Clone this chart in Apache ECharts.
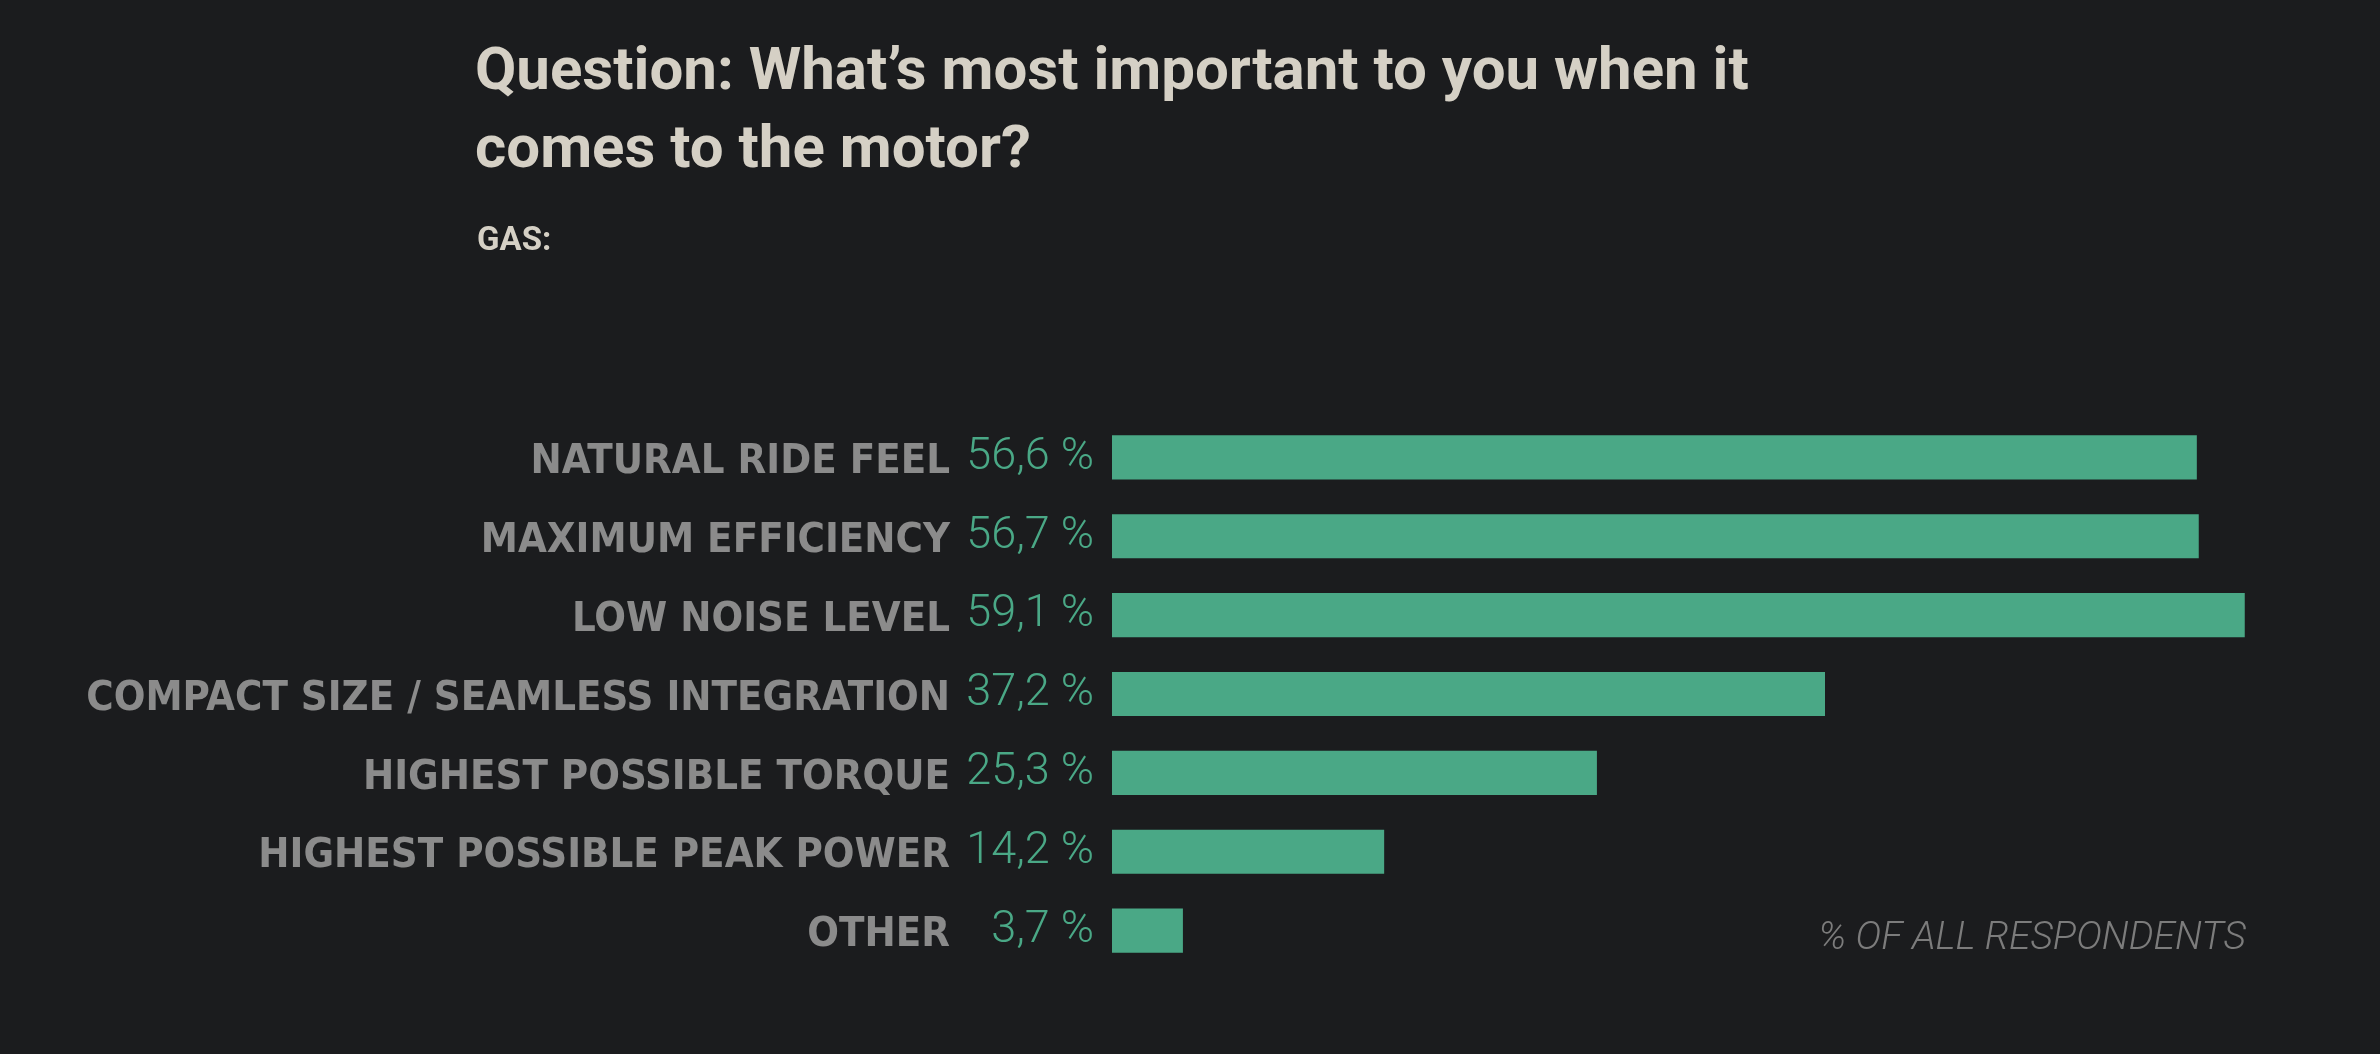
<!DOCTYPE html>
<html>
<head>
<meta charset="utf-8">
<script src="https://cdn.jsdelivr.net/npm/echarts@6/dist/echarts.min.js"></script>
<style>
  html, body { margin: 0; padding: 0; background: #1b1c1e; }
  #chart { width: 2380px; height: 1054px; }
</style>
</head>
<body>
<div id="chart"></div>
<script>
const categories = [
  "NATURAL RIDE FEEL",
  "MAXIMUM EFFICIENCY",
  "LOW NOISE LEVEL",
  "COMPACT SIZE / SEAMLESS INTEGRATION",
  "HIGHEST POSSIBLE TORQUE",
  "HIGHEST POSSIBLE PEAK POWER",
  "OTHER"
];
const shares = [56.6, 56.7, 59.1, 37.2, 25.3, 14.2, 3.7];

const titleText = "Question: What\u2019s most important to you when it\ncomes to the motor?";
const subText = "GAS:";
const noteText = "% OF ALL RESPONDENTS";

const chart = echarts.init(document.getElementById("chart"));

const option = {
  backgroundColor: "#1b1c1e",
  animation: false,
  title: [
    {
      text: titleText,
      left: 470,
      top: 30,
      textStyle: {
        color: "#d5d0c5",
        fontFamily: "Roboto",
        fontWeight: "bold",
        fontSize: 60,
        lineHeight: 78
      }
    },
    {
      text: subText,
      left: 472,
      top: 220,
      textStyle: {
        color: "#d5d0c5",
        fontFamily: "Roboto",
        fontWeight: "bold",
        fontSize: 33
      }
    },
    {
      text: noteText,
      right: 129,
      top: 915,
      textStyle: {
        color: "#7c7c7c",
        fontFamily: "Roboto",
        fontStyle: "italic",
        fontWeight: 300,
        fontSize: 39
      }
    }
  ],
  grid: {
    left: 1112,
    right: 118,
    top: 418,
    height: 552,
    containLabel: false
  },
  xAxis: {
    type: "value",
    min: 0,
    max: 60,
    show: false
  },
  yAxis: {
    type: "category",
    inverse: true,
    data: categories,
    axisLine: { show: false },
    axisTick: { show: false },
    axisLabel: {
      margin: 162,
      formatter: v => "{c|" + v + "}",
      rich: {
        c: {
          color: "#8b8b8b",
          fontFamily: "'Liberation Sans Narrow', 'DejaVu Sans Condensed', sans-serif",
          fontWeight: "bold",
          fontSize: 41.5,
          padding: [10, 0, 0, 0]
        }
      }
    }
  },
  series: [
    {
      type: "bar",
      data: shares,
      barCategoryGap: "44%",
      itemStyle: { color: "#4aa886" },
      label: {
        show: true,
        position: "left",
        distance: 18,
        color: "#4aa886",
        fontFamily: "Roboto",
        fontWeight: 300,
        fontSize: 45,
        formatter: p => p.value.toFixed(1).replace(".", ",") + " %"
      }
    }
  ]
};

chart.setOption(option);
</script>
</body>
</html>
